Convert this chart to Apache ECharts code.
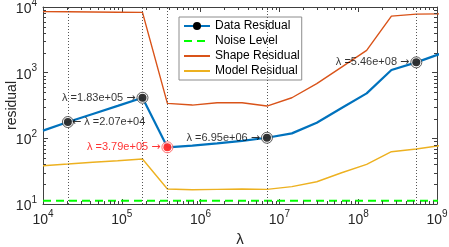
<!DOCTYPE html>
<html><head><meta charset="utf-8">
<script src="https://cdn.jsdelivr.net/npm/echarts@6/dist/echarts.min.js"></script>
<style>html,body{margin:0;padding:0;background:#fff}#c{width:449px;height:247px}</style>
</head><body><div id="c"></div>
<script>
const lambda = [1.00e4, 2.07e4, 4.28e4, 8.86e4, 1.83e5, 3.79e5, 7.85e5, 1.62e6, 3.36e6, 6.95e6, 1.44e7, 2.98e7, 6.16e7, 1.28e8, 2.64e8, 5.46e8, 1.13e9];
const dataResidual  = [131, 177, 235, 312, 415, 73, 77.7, 83.6, 91.5, 102, 119, 173, 289, 484, 1096, 1435, 1960];
const noiseLevel    = [11.2, 11.2, 11.2, 11.2, 11.2, 11.2, 11.2, 11.2, 11.2, 11.2, 11.2, 11.2, 11.2, 11.2, 11.2, 11.2, 11.2];
const shapeResidual = [8510, 8450, 8400, 8340, 8280, 341, 321, 348, 348, 310, 415, 680, 1217, 2180, 7270, 7800, 7850];
const modelResidual = [38.3, 40.6, 43.2, 45.6, 48.4, 16.9, 16.5, 16.7, 16.9, 16.7, 18.4, 21.8, 29.9, 40.2, 62.5, 68.7, 78];
const markIndex = [1, 4, 5, 9, 15];
const markColor = ['#000000', '#000000', '#ff0000', '#000000', '#000000'];
const labelColor = ['#000000', '#000000', '#ff0000', '#000000', '#000000'];
const labelSide = ['right', 'left', 'left', 'left', 'left'];
const xTicks = [1e4, 1e5, 1e6, 1e7, 1e8, 1e9];
const yTicks = [1e1, 1e2, 1e3, 1e4];

const FONT = 'Liberation Sans, Arial, Helvetica, sans-serif';
const pair = (xs, ys) => xs.map((x, i) => [x, ys[i]]);
function fmtLambda(v) {
  return v.toExponential(2).replace(/e([+-])(\d)$/, 'e$10$2');
}
const powLabel = v => '{b|10}{s|' + Math.round(Math.log10(v)) + '}';
const rich = {
  b: {fontSize: 14, fontFamily: FONT, color: '#262626', lineHeight: 18, verticalAlign: 'bottom'},
  s: {fontSize: 10, fontFamily: FONT, color: '#262626', lineHeight: 18, verticalAlign: 'top'}
};
const xMin = xTicks[0], xMax = xTicks[xTicks.length - 1];
const yMin = yTicks[0], yMax = yTicks[yTicks.length - 1];
const axisCol = '#404040';

const chart = echarts.init(document.getElementById('c'), null, {renderer: 'canvas'});
const baseX = {type: 'log', logBase: 10, min: xMin, max: xMax,
  axisLine: {show: true, lineStyle: {color: axisCol, width: 1}},
  axisTick: {show: true, inside: true, length: 5, lineStyle: {color: axisCol}},
  splitLine: {show: false}};
const baseY = {type: 'log', logBase: 10, min: yMin, max: yMax,
  axisLine: {show: true, lineStyle: {color: axisCol, width: 1}},
  axisTick: {show: true, inside: true, length: 5, lineStyle: {color: axisCol}},
  splitLine: {show: false}};

function markLabel(k, i) {
  const c = labelColor[k];
  const txt = 'λ =' + fmtLambda(lambda[i]);
  return {
    show: true, position: labelSide[k], distance: labelSide[k] === 'right' ? 0 : 3,
    color: c, fontSize: 11, fontFamily: FONT,
    formatter: labelSide[k] === 'right' ? ('{a|←} {t|' + txt + '}') : ('{t|' + txt + '} {a|→}'),
    rich: {
      t: {color: c, fontSize: 11, fontFamily: FONT},
      a: {color: c, fontSize: 11, fontFamily: 'DejaVu Sans'}
    }
  };
}

chart.setOption({
  animation: false,
  backgroundColor: '#ffffff',
  textStyle: {fontFamily: FONT},
  grid: {left: 43, right: 12, top: 7, bottom: 43, containLabel: false, outerBoundsMode: 'none'},
  xAxis: [
    Object.assign({}, baseX, {position: 'bottom', name: 'λ', nameLocation: 'middle', nameGap: 28,
      nameMoveOverlap: false,
      nameTextStyle: {fontSize: 15, color: '#262626', fontFamily: FONT},
      axisLabel: {show: true, margin: 5, formatter: powLabel, rich: rich}}),
    Object.assign({}, baseX, {position: 'top', axisLabel: {show: false}})
  ],
  yAxis: [
    Object.assign({}, baseY, {position: 'left', name: 'residual', nameLocation: 'middle', nameGap: 24,
      nameMoveOverlap: false,
      nameTextStyle: {fontSize: 14, color: '#262626', fontFamily: FONT},
      axisLabel: {show: true, margin: 6, formatter: powLabel, rich: rich}}),
    Object.assign({}, baseY, {position: 'right', axisLabel: {show: false}})
  ],
  legend: {
    data: [
      {name: 'Data Residual'},
      {name: 'Noise Level', itemStyle: {opacity: 0}},
      {name: 'Shape Residual', itemStyle: {opacity: 0}},
      {name: 'Model Residual', itemStyle: {opacity: 0}}
    ],
    orient: 'vertical', left: 179, top: 17,
    padding: [2, 2, 2, 4], itemGap: 1, itemWidth: 26, itemHeight: 10,
    backgroundColor: '#ffffff', borderColor: '#8c8c8c', borderWidth: 1, borderRadius: 0,
    textStyle: {fontSize: 12, color: '#000', fontFamily: FONT, lineHeight: 14}
  },
  series: [
    {
      name: 'Data Residual', type: 'line', data: pair(lambda, dataResidual),
      symbol: 'circle', showSymbol: false, symbolSize: 8,
      itemStyle: {color: '#000000'},
      lineStyle: {color: '#0072BD', width: 2.2}, z: 4, clip: true,
      markLine: {
        silent: true, symbol: ['none', 'none'], label: {show: false},
        lineStyle: {color: '#555555', type: [1, 2], width: 1},
        emphasis: {disabled: true},
        data: markIndex.map(i => ({xAxis: lambda[i]}))
      }
    },
    {
      name: 'Noise Level', type: 'line', data: pair(lambda, noiseLevel),
      symbol: 'none', itemStyle: {color: '#00ff00'},
      lineStyle: {color: '#00ff00', width: 2, type: [8, 5]}, z: 3, clip: true
    },
    {
      name: 'Shape Residual', type: 'line', data: pair(lambda, shapeResidual),
      symbol: 'none', itemStyle: {color: '#D95319'},
      lineStyle: {color: '#D95319', width: 1.4}, z: 3, clip: true
    },
    {
      name: 'Model Residual', type: 'line', data: pair(lambda, modelResidual),
      symbol: 'none', itemStyle: {color: '#EDB120'},
      lineStyle: {color: '#EDB120', width: 1.4}, z: 3, clip: true
    },
    {
      name: 'ring', type: 'scatter', symbol: 'circle', symbolSize: 11, z: 6, silent: true,
      data: markIndex.map((i, k) => ({value: [lambda[i], dataResidual[i]],
        itemStyle: {color: '#ffffff', borderColor: k === 2 ? '#ff5050' : '#333333', borderWidth: 1}}))
    },
    {
      name: 'dot', type: 'scatter', symbol: 'circle', symbolSize: 8, z: 7, silent: true,
      data: markIndex.map((i, k) => ({value: [lambda[i], dataResidual[i]],
        itemStyle: {color: markColor[k]}, label: markLabel(k, i)}))
    },
    {
      name: 'minorTicks', type: 'custom', coordinateSystem: 'cartesian2d', silent: true, z: 8,
      data: [[xMin, yMin]],
      renderItem: function (params, api) {
        const ch = [];
        const lb = api.coord([xMin, yMin]), rt = api.coord([xMax, yMax]);
        const L = lb[0], B = lb[1], R = rt[0], T = rt[1];
        const st = {stroke: axisCol, lineWidth: 1};
        for (let d = 0; d < xTicks.length - 1; d++) {
          for (let m = 2; m <= 9; m++) {
            const px = Math.round(api.coord([xTicks[d] * m, yMin])[0]) + 0.5;
            ch.push({type: 'line', shape: {x1: px, y1: B, x2: px, y2: B - 3}, style: st});
            ch.push({type: 'line', shape: {x1: px, y1: T, x2: px, y2: T + 3}, style: st});
          }
        }
        for (let d = 0; d < yTicks.length - 1; d++) {
          for (let m = 2; m <= 9; m++) {
            const py = Math.round(api.coord([xMin, yTicks[d] * m])[1]) + 0.5;
            ch.push({type: 'line', shape: {x1: L, y1: py, x2: L + 3, y2: py}, style: st});
            ch.push({type: 'line', shape: {x1: R, y1: py, x2: R - 3, y2: py}, style: st});
          }
        }
        return {type: 'group', children: ch};
      }
    }
  ]
});
</script></body></html>
